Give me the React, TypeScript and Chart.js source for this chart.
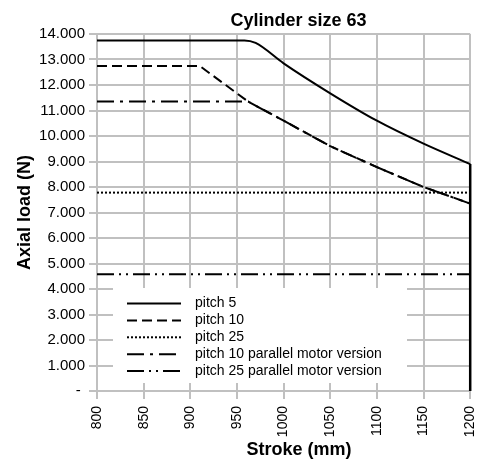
import React, { useEffect, useRef } from 'react';
import { Chart, registerables } from 'chart.js';

Chart.register(...registerables);

const FONT = '"Liberation Sans", Arial, Helvetica, sans-serif';

const TITLE = 'Cylinder size 63';
const X_TITLE = 'Stroke (mm)';
const Y_TITLE = 'Axial load (N)';

const X_MIN = 800;
const X_MAX = 1200;
const X_STEP = 50;
const Y_MIN = 0;
const Y_MAX = 14000;
const Y_STEP = 1000;

// series values (stroke in mm, axial load in N)
const pitch5Stroke = [800, 958, 970, 1000, 1050, 1100, 1150, 1200];
const pitch5Load = [13750, 13750, 13650, 12850, 11675, 10600, 9700, 8900];

const limitStroke = [1200, 1200];
const limitLoad = [8900, 0];

const pitch10Stroke = [800, 910, 962, 1000, 1050, 1100, 1150, 1200];
const pitch10Load = [12750, 12750, 11350, 10600, 9600, 8780, 8000, 7350];

const pitch25Stroke = [800, 1200];
const pitch25Load = [7780, 7780];

const pitch10ParStroke = [800, 962, 1000, 1050, 1100, 1150, 1200];
const pitch10ParLoad = [11350, 11350, 10600, 9600, 8780, 8000, 7350];

const pitch25ParStroke = [800, 1200];
const pitch25ParLoad = [4575, 4575];

const SERIES_LABELS = [
  'pitch 5',
  'pitch 10',
  'pitch 25',
  'pitch 10 parallel motor version',
  'pitch 25 parallel motor version',
];

const toXY = (xs: number[], ys: number[]) => xs.map((x, i) => ({ x, y: ys[i] }));

const fmtThousands = (v: number) => {
  if (v === 0) return '- ';
  return String(Math.round(v)).replace(/\B(?=(\d{3})+(?!\d))/g, '.');
};

const overlayPlugin = {
  id: 'overlay',
  afterDraw(chart: any) {
    const ctx = chart.ctx as CanvasRenderingContext2D;
    ctx.save();
    // chart title
    ctx.fillStyle = '#000';
    ctx.textAlign = 'center';
    ctx.textBaseline = 'alphabetic';
    ctx.font = `bold 18px ${FONT}`;
    ctx.fillText(TITLE, 298.5, 25.5);
    // x axis title
    ctx.fillText(X_TITLE, 299, 455);

    // legend box
    const bx = 113, by = 288, bw = 294, bh = 95;
    ctx.fillStyle = '#fff';
    ctx.fillRect(bx, by, bw, bh);
    ctx.font = `14px ${FONT}`;
    ctx.textAlign = 'left';
    ctx.textBaseline = 'middle';
    const items = chart.data.datasets.filter((d: any) => !d.noLegend);
    items.forEach((ds: any, i: number) => {
      const y = 303.5 + i * 16.9;
      ctx.save();
      ctx.strokeStyle = ds.borderColor;
      ctx.lineWidth = ds.borderWidth;
      ctx.setLineDash(ds.borderDash || []);
      ctx.beginPath();
      ctx.moveTo(127, y);
      ctx.lineTo(181, y);
      ctx.stroke();
      ctx.restore();
      ctx.fillStyle = '#000';
      ctx.fillText(ds.label, 195, y);
    });
    ctx.restore();
  },
};

export default function App() {
  const ref = useRef<HTMLCanvasElement | null>(null);

  useEffect(() => {
    if (!ref.current) return;
    const gridColor = '#c0c0c0';
    const chart = new Chart(ref.current, {
      type: 'line',
      data: {
        datasets: [
          {
            label: SERIES_LABELS[0],
            data: toXY(pitch5Stroke, pitch5Load),
            borderColor: '#000',
            borderWidth: 2,
            borderDash: [],
            cubicInterpolationMode: 'monotone',
            pointRadius: 0,
            clip: false,
          },
          {
            label: SERIES_LABELS[1],
            data: toXY(pitch10Stroke, pitch10Load),
            borderColor: '#000',
            borderWidth: 2,
            borderDash: [10, 5],
            tension: 0,
            pointRadius: 0,
            clip: false,
          },
          {
            label: SERIES_LABELS[2],
            data: toXY(pitch25Stroke, pitch25Load),
            borderColor: '#000',
            borderWidth: 2,
            borderDash: [2, 2],
            tension: 0,
            pointRadius: 0,
            clip: false,
          },
          {
            label: SERIES_LABELS[3],
            data: toXY(pitch10ParStroke, pitch10ParLoad),
            borderColor: '#000',
            borderWidth: 2,
            borderDash: [17, 6, 3, 6],
            tension: 0,
            pointRadius: 0,
            clip: false,
          },
          {
            label: SERIES_LABELS[4],
            data: toXY(pitch25ParStroke, pitch25ParLoad),
            borderColor: '#000',
            borderWidth: 2,
            borderDash: [17, 5, 2, 5, 2, 5],
            tension: 0,
            pointRadius: 0,
            clip: false,
          },
          {
            label: 'stroke limit',
            noLegend: true,
            data: toXY(limitStroke, limitLoad),
            borderColor: '#000',
            borderWidth: 2.5,
            borderDash: [],
            tension: 0,
            pointRadius: 0,
            clip: false,
          } as any,
        ],
      },
      options: {
        responsive: false,
        animation: false,
        layout: { padding: { top: 34, right: 20, left: 0, bottom: 0 } },
        plugins: {
          legend: { display: false },
          title: { display: false },
          tooltip: { enabled: false },
        },
        scales: {
          x: {
            type: 'linear',
            min: X_MIN,
            max: X_MAX,
            afterFit: (s: any) => {
              s.height = 71;
            },
            ticks: {
              stepSize: X_STEP,
              minRotation: 90,
              maxRotation: 90,
              padding: 7,
              color: '#000',
              font: { family: FONT, size: 14 },
              callback: (v: any) => String(v),
            },
            grid: { color: gridColor, lineWidth: 2, tickLength: 8, drawTicks: true },
            border: { color: gridColor, width: 2 },
          },
          y: {
            type: 'linear',
            min: Y_MIN,
            max: Y_MAX,
            afterFit: (s: any) => {
              s.width = 97;
            },
            ticks: {
              stepSize: Y_STEP,
              padding: 4,
              color: '#000',
              font: { family: FONT, size: 15 },
              callback: (v: any) => fmtThousands(Number(v)),
            },
            grid: { color: gridColor, lineWidth: 2, tickLength: 8, drawTicks: true },
            border: { color: gridColor, width: 2 },
            title: {
              display: true,
              text: Y_TITLE,
              color: '#000',
              font: { family: FONT, size: 18, weight: 'bold' },
              padding: { top: 14, bottom: 0 },
            },
          },
        },
      },
      plugins: [overlayPlugin],
    } as any);
    return () => chart.destroy();
  }, []);

  return (
    <div style={{ position: 'fixed', left: 0, top: 0, width: 494, height: 462, background: '#fff' }}>
      <canvas ref={ref} width={494} height={462} style={{ display: 'block', width: 494, height: 462 }} />
    </div>
  );
}
